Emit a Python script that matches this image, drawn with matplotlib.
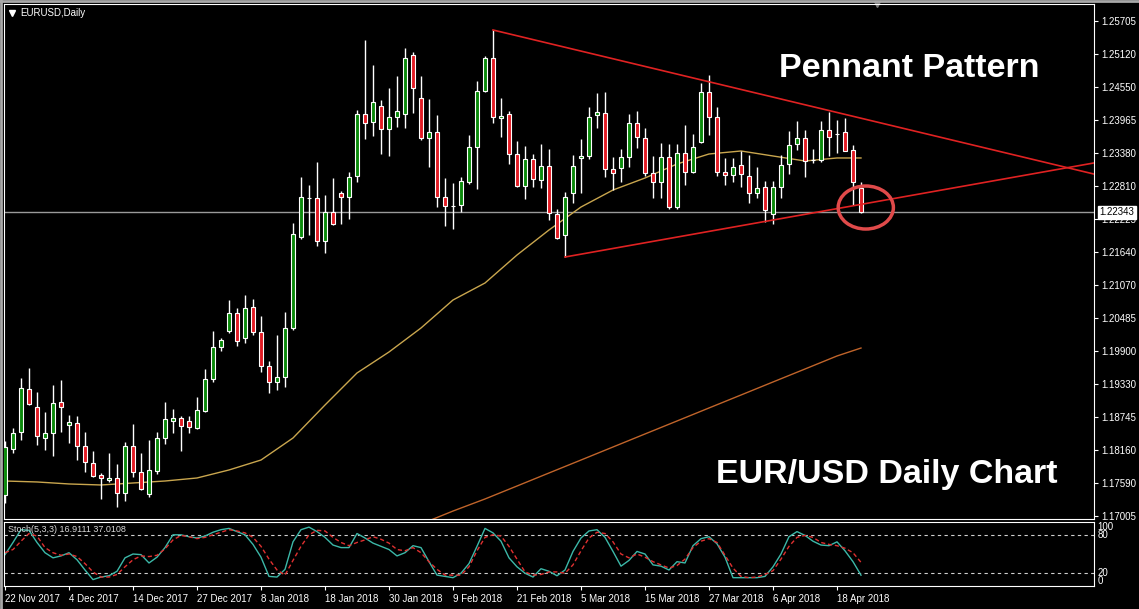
import numpy as np
import matplotlib.pyplot as plt
from matplotlib.patches import Ellipse

plt.rcParams['font.family'] = ['Liberation Sans', 'DejaVu Sans']

# EURUSD daily candles, 22 Nov 2017 -> 19 Apr 2018
opens = [1.17372, 1.18181, 1.18480, 1.19235, 1.18919, 1.18374, 1.18462, 1.19007, 1.18603, 1.18638,
         1.18234, 1.17935, 1.17724, 1.17636, 1.17671, 1.17407, 1.18234, 1.17776, 1.17390, 1.17794,
         1.18374, 1.18673, 1.18726, 1.18673, 1.18550, 1.18849, 1.19411, 1.19974, 1.20255, 1.20572,
         1.20132, 1.20677, 1.20237, 1.19640, 1.19359, 1.19447, 1.20308, 1.21908, 1.22600, 1.22593,
         1.21838, 1.22347, 1.22681, 1.22611, 1.22980, 1.24070, 1.23930, 1.24211, 1.23806, 1.24017,
         1.24070, 1.25107, 1.24351, 1.23648, 1.23754, 1.22611, 1.22460, 1.22470, 1.22875, 1.23490,
         1.24474, 1.25055, 1.24000, 1.24070, 1.23367, 1.22804, 1.23279, 1.22910, 1.23156, 1.22312,
         1.21943, 1.22681, 1.23297, 1.23332, 1.24052, 1.24088, 1.23103, 1.23121, 1.23314, 1.23912,
         1.23648, 1.23033, 1.22875, 1.23314, 1.22435, 1.23385, 1.23050, 1.23578, 1.24457, 1.24017,
         1.23050, 1.22998, 1.23174, 1.22980, 1.22681, 1.22787, 1.22312, 1.22787, 1.23191, 1.23543,
         1.23648, 1.23270, 1.23261, 1.23789, 1.23710, 1.23754, 1.23437, 1.22769]
closes = [1.18216, 1.18462, 1.19253, 1.18972, 1.18409, 1.18462, 1.18989, 1.18919, 1.18655, 1.18234,
          1.17952, 1.17706, 1.17671, 1.17671, 1.17407, 1.18234, 1.17776, 1.17478, 1.17812, 1.18374,
          1.18708, 1.18726, 1.18585, 1.18568, 1.18866, 1.19411, 1.19974, 1.20097, 1.20572, 1.20079,
          1.20660, 1.20237, 1.19640, 1.19359, 1.19447, 1.20308, 1.21961, 1.22611, 1.22600, 1.21838,
          1.22347, 1.22136, 1.22611, 1.22963, 1.24070, 1.23912, 1.24281, 1.23806, 1.24017, 1.24123,
          1.25055, 1.24527, 1.23648, 1.23754, 1.22611, 1.22453, 1.22460, 1.22892, 1.23490, 1.24474,
          1.25055, 1.24017, 1.24035, 1.23367, 1.22804, 1.23279, 1.22927, 1.23156, 1.22329, 1.21890,
          1.22611, 1.23156, 1.23332, 1.24017, 1.24105, 1.23103, 1.23033, 1.23314, 1.23912, 1.23666,
          1.23033, 1.22875, 1.23314, 1.22435, 1.23385, 1.23050, 1.23490, 1.24457, 1.24017, 1.23050,
          1.22998, 1.23138, 1.23015, 1.22681, 1.22769, 1.22382, 1.22787, 1.23174, 1.23525, 1.23648,
          1.23244, 1.23270, 1.23789, 1.23666, 1.23710, 1.23420, 1.22875, 1.22343]
highs = [1.18321, 1.18550, 1.19429, 1.19605, 1.19183, 1.18831, 1.19306, 1.19394, 1.18778, 1.18761,
         1.18480, 1.18146, 1.17759, 1.18110, 1.17917, 1.18304, 1.18620, 1.18110, 1.18339, 1.18480,
         1.19007, 1.18884, 1.18761, 1.18761, 1.19095, 1.19587, 1.20255, 1.20132, 1.20800, 1.20660,
         1.20888, 1.20818, 1.20519, 1.19728, 1.20185, 1.20589, 1.22154, 1.22963, 1.22822, 1.23226,
         1.22646, 1.22945, 1.22716, 1.23050, 1.24140, 1.25371, 1.24931, 1.24316, 1.24527, 1.24738,
         1.25230, 1.25160, 1.24738, 1.24334, 1.24052, 1.22945, 1.22857, 1.22963, 1.23701, 1.24650,
         1.25090, 1.25547, 1.24351, 1.24123, 1.23596, 1.23508, 1.23367, 1.23543, 1.23455, 1.22400,
         1.22699, 1.23349, 1.23631, 1.24193, 1.24439, 1.24457, 1.23314, 1.23455, 1.24070, 1.24123,
         1.23824, 1.23332, 1.23560, 1.23543, 1.23543, 1.23877, 1.23719, 1.24615, 1.24756, 1.24193,
         1.23297, 1.23297, 1.23420, 1.23349, 1.23138, 1.22892, 1.22892, 1.23349, 1.23771, 1.23947,
         1.23789, 1.23455, 1.23947, 1.24105, 1.23965, 1.24000, 1.23525, 1.22875]
lows = [1.17231, 1.18110, 1.18339, 1.18954, 1.18251, 1.18163, 1.18058, 1.18480, 1.18286, 1.17987,
        1.17776, 1.17688, 1.17302, 1.17601, 1.17161, 1.17267, 1.17688, 1.17460, 1.17337, 1.17741,
        1.18269, 1.18462, 1.18146, 1.18462, 1.18532, 1.18831, 1.19359, 1.19903, 1.20220, 1.19992,
        1.20044, 1.20185, 1.19534, 1.19165, 1.19218, 1.19271, 1.20273, 1.21873, 1.21943, 1.21750,
        1.21627, 1.22119, 1.22136, 1.22224, 1.22875, 1.23631, 1.23683, 1.23367, 1.23332, 1.23842,
        1.23824, 1.24088, 1.23613, 1.23138, 1.22435, 1.22101, 1.22048, 1.22347, 1.22840, 1.22752,
        1.24457, 1.23912, 1.23666, 1.23191, 1.22787, 1.22576, 1.22787, 1.22769, 1.22207, 1.21873,
        1.21556, 1.22505, 1.22681, 1.23279, 1.23824, 1.22963, 1.22734, 1.22875, 1.23138, 1.23472,
        1.22980, 1.22593, 1.22593, 1.22400, 1.22400, 1.22822, 1.23033, 1.23560, 1.23701, 1.22980,
        1.22822, 1.22875, 1.22787, 1.22505, 1.22593, 1.22171, 1.22136, 1.22593, 1.23015, 1.23437,
        1.22963, 1.23209, 1.23226, 1.23332, 1.23385, 1.23420, 1.22470, 1.22330]

# moving averages (bar index, price)
ma_fast_idx = [0, 4, 8, 12, 16, 20, 24, 28, 32, 36, 40, 44, 48, 52, 56, 60, 64, 68, 72, 76,
               80, 84, 88, 92, 96, 100, 104, 107]
ma_fast = [1.17618, 1.17601, 1.17566, 1.17548, 1.17583, 1.17618, 1.17671, 1.17812, 1.17987, 1.18374,
           1.18954, 1.19517, 1.19886, 1.20308, 1.20800, 1.21099, 1.21591, 1.22031, 1.22435, 1.22734,
           1.22945, 1.23191, 1.23367, 1.23420, 1.23332, 1.23244, 1.23297, 1.23297]
ma_slow_idx = [52, 56, 60, 64, 68, 72, 76, 80, 84, 88, 92, 96, 100, 104, 107]
ma_slow = [1.16862, 1.17090, 1.17302, 1.17530, 1.17759, 1.17987, 1.18216, 1.18445, 1.18673, 1.18902,
           1.19130, 1.19359, 1.19587, 1.19816, 1.19956]

# stochastic (5,3,3)
stoch_k = [49, 68, 88, 87, 68, 52, 44, 47, 52, 41,
           25, 10, 14, 16, 23, 44, 50, 49, 36, 45,
           60, 80, 80, 77, 75, 78, 84, 88, 90, 85,
           80, 65, 45, 15, 14, 26, 69, 88, 92, 85,
           76, 64, 60, 60, 82, 75, 67, 62, 57, 47,
           52, 63, 60, 38, 17, 15, 13, 20, 35, 62,
           90, 83, 70, 44, 30, 20, 14, 27, 23, 16,
           25, 54, 75, 86, 88, 76, 54, 31, 40, 54,
           50, 33, 31, 25, 38, 36, 63, 74, 77, 66,
           45, 13, 13, 13, 13, 15, 30, 50, 77, 85,
           79, 70, 64, 63, 69, 55, 38, 16.9]
stoch_d = [52, 57, 70, 82, 78, 60, 52, 48, 50, 46,
           35, 22, 14, 14, 18, 30, 41, 47, 46, 48,
           58, 72, 79, 77, 74, 76, 80, 84, 88, 86,
           83, 76, 62, 42, 25, 17, 40, 62, 80, 87,
           86, 76, 68, 63, 68, 72, 77, 73, 67, 57,
           55, 60, 52, 38, 26, 17, 17, 17, 30, 55,
           76, 80, 78, 62, 42, 22, 17, 18, 22, 22,
           20, 33, 55, 75, 84, 82, 69, 50, 44, 50,
           45, 38, 33, 28, 32, 42, 60, 70, 74, 68,
           48, 28, 15, 13, 14, 18, 24, 42, 62, 76,
           79, 76, 68, 65, 63, 59, 52, 37.0]

# pennant trendlines (bar index, price)
upper_x = [61, 136.1]
upper_y = [1.25547, 1.23015]
lower_x = [70, 136.1]
lower_y = [1.21556, 1.23209]

last_price = 1.22343
price_ticks = [1.25705, 1.25120, 1.24550, 1.23965, 1.23380, 1.22810, 1.22225, 1.21640,
               1.21070, 1.20485, 1.19900, 1.19330, 1.18745, 1.18160, 1.17590, 1.17005]
date_labels = ['22 Nov 2017', '4 Dec 2017', '14 Dec 2017', '27 Dec 2017', '8 Jan 2018',
               '18 Jan 2018', '30 Jan 2018', '9 Feb 2018', '21 Feb 2018', '5 Mar 2018',
               '15 Mar 2018', '27 Mar 2018', '6 Apr 2018', '18 Apr 2018']

O = np.array(opens); C = np.array(closes); H = np.array(highs); L = np.array(lows)
x = np.arange(len(O))

fig = plt.figure(figsize=(11.39, 6.09), dpi=100, facecolor='black')
ax = fig.add_axes([4/1139, 1-519/609, 1090/1139, 515/609], facecolor='black')
ax2 = fig.add_axes([4/1139, 1-586/609, 1090/1139, 64/609], facecolor='black')

# main price panel
body_col = np.where(C > O, '#0a8a0a', np.where(C < O, '#e21b23', 'white'))
ax.axhline(last_price, color='#9a9a9a', lw=1, zorder=1)
ax.plot(ma_fast_idx, ma_fast, color='#c9a64e', lw=1, zorder=2)
ax.plot(ma_slow_idx, ma_slow, color='#c0642a', lw=1, zorder=2)
ax.vlines(x, L, H, color='white', lw=1, zorder=3)
ax.bar(x, np.abs(C - O), bottom=np.minimum(O, C), width=0.62, color=body_col,
       edgecolor='white', linewidth=0.8, zorder=4)
ax.plot(upper_x, upper_y, color='#e02222', lw=1.2, zorder=5)
ax.plot(lower_x, lower_y, color='#e02222', lw=1.2, zorder=5)
ax.add_patch(Ellipse((107.6, 1.22426), 6.9, 0.00756, fill=False,
                     edgecolor='#e04a4a', lw=2.5, zorder=6))

ax.set_xlim(-0.125, 136.125)
ax.set_ylim(1.16950, 1.26004)
ax.set_xticks([])
ax.yaxis.tick_right()
ax.set_yticks(price_ticks)
ax.set_yticklabels(['%.5f' % p for p in price_ticks])
ax.tick_params(axis='y', colors='white', labelsize=7, length=3, pad=2)
for s in ax.spines.values():
    s.set_color('white')

ax.annotate('%.5f' % last_price, xy=(1, last_price), xycoords=('axes fraction', 'data'),
            xytext=(4, 0), textcoords='offset points', va='center', ha='left',
            fontsize=7, color='black', annotation_clip=False, zorder=10,
            bbox=dict(boxstyle='square,pad=0.15', fc='white', ec='white'))

ax.plot([(12-4)/1090], [1-(12.5-4)/515], marker='v', color='white', ms=4,
        transform=ax.transAxes, clip_on=False)
ax.text((20-4)/1090, 1-(12.5-4)/515, 'EURUSD,Daily', transform=ax.transAxes,
        color='white', fontsize=7, va='center')
ax.plot([(877-4)/1090], [1.0], marker='v', color='#7a7a7a', ms=5,
        transform=ax.transAxes, clip_on=False)

fig.text(909.5/1139, 1-77/609, 'Pennant Pattern', ha='center', va='baseline',
         fontsize=24.5, fontweight='bold', color='white')
fig.text(886.5/1139, 1-483/609, 'EUR/USD Daily Chart', ha='center', va='baseline',
         fontsize=24.5, fontweight='bold', color='white')

# stochastic panel
ax2.axhline(80, color='#cfcfcf', lw=0.8, ls=(0, (3, 3)))
ax2.axhline(20, color='#cfcfcf', lw=0.8, ls=(0, (3, 3)))
ax2.plot(x, stoch_k, color='#3cb8a8', lw=1)
ax2.plot(x, stoch_d, color='#e03030', lw=1, ls=(0, (3, 2)))
ax2.set_xlim(-0.125, 136.125)
ax2.set_ylim(0, 100)
ax2.set_yticks([])
for s in ax2.spines.values():
    s.set_color('white')
ax2.text(0.004, 0.875, 'Stoch(5,3,3) 16.9111 37.0108', transform=ax2.transAxes,
         color='#d8d8d8', fontsize=6.5, va='center')
for v, va in [(100, 'top'), (80, 'center'), (20, 'center'), (0, 'bottom')]:
    ax2.text(1.003, v, str(v), transform=ax2.get_yaxis_transform(), color='white',
             fontsize=7, va=va, ha='left', clip_on=False)

ax2.set_xticks(np.arange(0, 8*len(date_labels), 8))
ax2.set_xticklabels(date_labels, ha='left')
ax2.tick_params(axis='x', colors='white', labelsize=7, length=3, pad=3)

# window border
fig.add_artist(plt.Line2D([0, 1], [1-1/609, 1-1/609], color='#a8a8a8', lw=2, transform=fig.transFigure))
fig.add_artist(plt.Line2D([1/1139, 1/1139], [0, 1], color='#a8a8a8', lw=2, transform=fig.transFigure))

plt.savefig('out.png', dpi=100, facecolor='black')
